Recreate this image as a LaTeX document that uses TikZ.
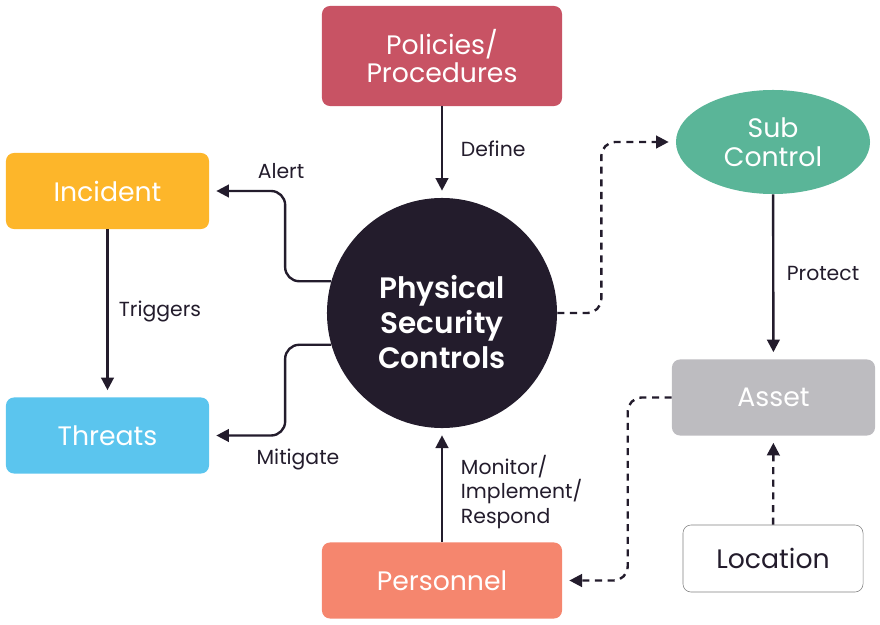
\documentclass[tikz,border=0pt]{standalone}
\usepackage{fontspec}
\setmainfont{Poppins}[BoldFont={Poppins SemiBold}]
\usepackage{tikz}
\usetikzlibrary{shapes,arrows.meta,positioning,calc}
\definecolor{polcolor}{HTML}{C85364}
\definecolor{inccolor}{HTML}{FDB62A}
\definecolor{thrcolor}{HTML}{5BC5EE}
\definecolor{subcolor}{HTML}{5AB598}
\definecolor{asscolor}{HTML}{BDBCC0}
\definecolor{percolor}{HTML}{F5866E}
\definecolor{inkcolor}{HTML}{231C2C}
\tikzset{
    block/.style={
        rectangle,                % caja básica
        rounded corners=2mm,      % esquinas suaves
        fill=#1,                  % relleno plano del color pedido
        text=white,               % texto blanco sobre color
        minimum width=5.075cm,    % ancho común de las cajas
        minimum height=1.9cm,
        align=center,
        font=\fontsize{19}{20.5}\selectfont
    },
    hub/.style={
        circle,                   % nodo central
        fill=inkcolor,
        minimum size=5.75cm
    },
    hubtext/.style={
        text=white,
        align=center,
        font=\fontsize{21}{25}\selectfont\bfseries
    },
    link/.style={
        draw=inkcolor,
        line width=1.7pt,
        rounded corners=10pt,     % codos redondeados
        -{Triangle[length=9pt,width=9pt]},
        shorten >=5pt
    },
    dashlink/.style={
        link,
        dash pattern=on 5pt off 4pt  % trazo discontinuo
    },
    tag/.style={
        text=inkcolor,
        align=left,
        font=\fontsize{14.5}{17.4}\selectfont
    }
}
\begin{document}
\begin{tikzpicture}[x=0.025cm,y=-0.025cm]
    \useasboundingbox (0,0) rectangle (880,624);
    % nodos
    \node[block=polcolor, minimum width=6cm, minimum height=2.5cm] (policies) at (442,56) {Policies/\\Procedures};
    \node[hub] (psc) at (442,313) {};
    \node[hubtext] (psctext) at ($(psc.center)+(0,9)$) {Physical\\Security\\Controls};
    \node[block=inccolor] (incident) at (107.5,191) {Incident};
    \node[block=thrcolor] (threats) at (107.5,435.5) {Threats};
    \node[ellipse, fill=subcolor, text=white, minimum width=4.85cm, minimum height=2.6cm,
          align=center, font=\fontsize{19}{20.5}\selectfont] (sub) at (773,142) {Sub\\Control};
    \node[block=asscolor] (asset) at (773.5,397.5) {Asset};
    \node[block=white, draw=gray, thin, text=inkcolor, minimum width=4.5cm, minimum height=1.675cm] (location) at (773,558.5) {Location};
    \node[block=percolor, minimum width=6cm] (personnel) at (442,580.5) {Personnel};
    % conectores
    \draw[link] (policies) -- (psc);
    \draw[link] (psc.164) -- ++(-46,0) |- (incident.east);
    \draw[link] (psc.196) -- ++(-46,0) |- (threats.east);
    \draw[link] (incident) -- (threats);
    \draw[dashlink] (psc.east) -- ++(44,0) |- (sub.west);
    \draw[link] (sub) -- (asset);
    \draw[dashlink] (asset.west) -- ++(-44,0) |- (personnel.east);
    \draw[dashlink] (location) -- (asset);
    \draw[link] (personnel) -- (psc);
    % etiquetas
    \node[tag, anchor=west] (deftag) at (456,149) {Define};
    \node[tag] (alerttag) at (281,171) {Alert};
    \node[tag] (mittag) at (298,459) {Mitigate};
    \node[tag] (trigtag) at (160,311) {Triggers};
    \node[tag] (prottag) at (823,273) {Protect};
    \node[tag, anchor=west] (montag) at (456,492) {Monitor/\\Implement/\\Respond};
\end{tikzpicture}
\end{document}
